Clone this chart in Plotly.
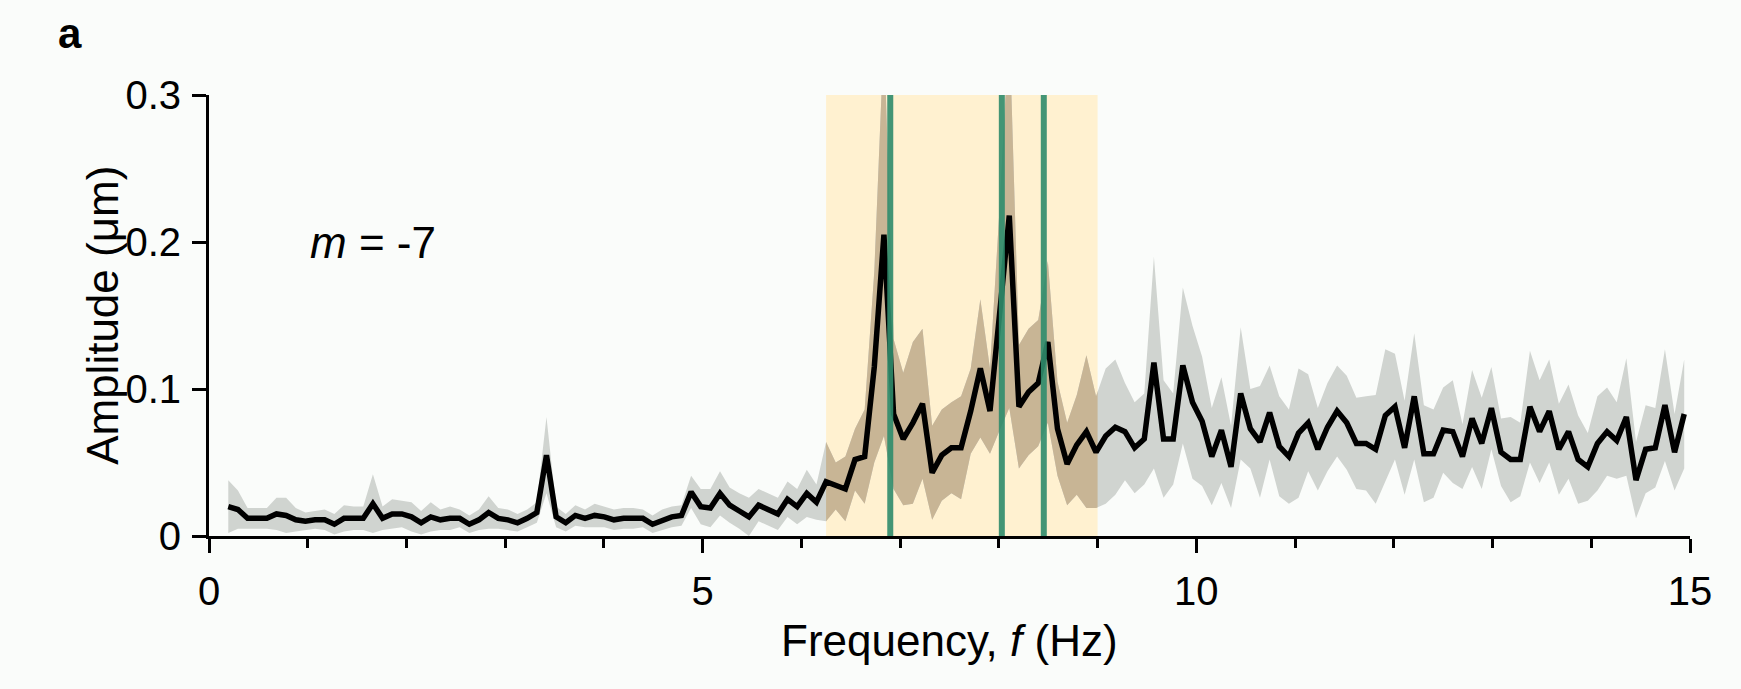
import plotly.graph_objects as go

# Spectral bins: resolution 1/10.24 Hz, bins 2..153
FREQ_STEP_HZ = 1 / 10.24
freq_hz = [n * FREQ_STEP_HZ for n in range(2, 154)]

# Mean amplitude (um) per bin
amp_mean = [
    0.020, 0.018, 0.012, 0.012, 0.012, 0.015, 0.014, 0.011, 0.010, 0.011,
    0.011, 0.008, 0.012, 0.012, 0.012, 0.022, 0.012, 0.015, 0.015, 0.013,
    0.009, 0.013, 0.011, 0.012, 0.012, 0.008, 0.011, 0.016, 0.012, 0.011,
    0.009, 0.012, 0.016, 0.055, 0.013, 0.009, 0.014, 0.012, 0.014, 0.013,
    0.011, 0.012, 0.012, 0.012, 0.008, 0.011, 0.013, 0.014, 0.030, 0.020,
    0.019, 0.029, 0.021, 0.017, 0.013, 0.021, 0.018, 0.015, 0.025, 0.020,
    0.029, 0.023, 0.037, 0.034, 0.032, 0.052, 0.054, 0.115, 0.205, 0.083,
    0.066, 0.077, 0.090, 0.043, 0.055, 0.060, 0.060, 0.085, 0.114, 0.085,
    0.148, 0.218, 0.088, 0.098, 0.104, 0.132, 0.073, 0.049, 0.062, 0.071,
    0.057, 0.068, 0.074, 0.071, 0.060, 0.066, 0.118, 0.066, 0.066, 0.116,
    0.091, 0.078, 0.054, 0.072, 0.047, 0.097, 0.073, 0.064, 0.084, 0.061,
    0.054, 0.070, 0.077, 0.059, 0.074, 0.085, 0.077, 0.063, 0.063, 0.059,
    0.082, 0.088, 0.060, 0.095, 0.056, 0.056, 0.072, 0.071, 0.054, 0.080,
    0.063, 0.087, 0.057, 0.052, 0.052, 0.088, 0.071, 0.085, 0.059, 0.071,
    0.052, 0.047, 0.063, 0.071, 0.065, 0.081, 0.038, 0.059, 0.060, 0.089,
    0.057, 0.083,
]

# Standard deviation of the amplitude per bin
amp_sd = [
    0.018, 0.013, 0.007, 0.007, 0.007, 0.011, 0.012, 0.008, 0.006, 0.006,
    0.007, 0.007, 0.009, 0.008, 0.008, 0.020, 0.008, 0.010, 0.009, 0.010,
    0.008, 0.010, 0.007, 0.008, 0.006, 0.006, 0.007, 0.011, 0.007, 0.007,
    0.006, 0.006, 0.007, 0.026, 0.007, 0.006, 0.007, 0.006, 0.008, 0.007,
    0.007, 0.007, 0.007, 0.006, 0.006, 0.007, 0.007, 0.007, 0.011, 0.012,
    0.013, 0.015, 0.012, 0.012, 0.013, 0.011, 0.011, 0.011, 0.012, 0.012,
    0.016, 0.012, 0.027, 0.016, 0.022, 0.021, 0.032, 0.065, 0.137, 0.051,
    0.045, 0.055, 0.051, 0.032, 0.031, 0.031, 0.035, 0.029, 0.047, 0.029,
    0.076, 0.131, 0.042, 0.043, 0.043, 0.055, 0.032, 0.028, 0.034, 0.052,
    0.038, 0.046, 0.046, 0.033, 0.031, 0.031, 0.072, 0.040, 0.031, 0.053,
    0.052, 0.044, 0.033, 0.036, 0.028, 0.045, 0.027, 0.038, 0.032, 0.034,
    0.032, 0.044, 0.033, 0.028, 0.030, 0.031, 0.032, 0.031, 0.032, 0.037,
    0.045, 0.036, 0.032, 0.043, 0.033, 0.030, 0.029, 0.035, 0.022, 0.033,
    0.031, 0.028, 0.023, 0.029, 0.025, 0.038, 0.035, 0.035, 0.031, 0.032,
    0.030, 0.023, 0.032, 0.030, 0.026, 0.040, 0.026, 0.030, 0.027, 0.038,
    0.026, 0.037,
]

# Highlighted frequency window and mode frequencies (Hz)
window_hz = [6.25, 9.0]
mode_freqs_hz = [6.90, 8.03, 8.455]

x_range = [0, 15]
y_range = [0, 0.3]
y_ticks = [0, 0.1, 0.2, 0.3]
y_ticktext = ["0", "0.1", "0.2", "0.3"]

BG = "#FAFCFA"
GREY_BAND = "#D0D4D0"
BROWN_BAND = "#C8B595"
WINDOW_FILL = "#FFF1D0"
MODE_GREEN = "#2F8C6C"
FONT = "Liberation Sans, Arial, sans-serif"
TICK_FONT = "Liberation Sans Narrow, Arial Narrow, Liberation Sans, sans-serif"
TICK_FS = 40
TITLE_FS = 44

upper = [m + s for m, s in zip(amp_mean, amp_sd)]
lower = [m - s for m, s in zip(amp_mean, amp_sd)]


def band_traces(xa, ya, color):
    return [
        go.Scatter(x=freq_hz, y=upper, mode="lines", line=dict(width=0),
                   hoverinfo="skip", showlegend=False, xaxis=xa, yaxis=ya),
        go.Scatter(x=freq_hz, y=lower, mode="lines", line=dict(width=0),
                   fill="tonexty", fillcolor=color, hoverinfo="skip",
                   showlegend=False, xaxis=xa, yaxis=ya),
    ]


fig = go.Figure()
# grey spread everywhere
for t in band_traces("x", "y", GREY_BAND):
    fig.add_trace(t)
# tinted spread, clipped to the highlighted window by its own subplot
for t in band_traces("x2", "y2", BROWN_BAND):
    fig.add_trace(t)
# mean amplitude on top
fig.add_trace(go.Scatter(x=freq_hz, y=amp_mean, mode="lines",
                         line=dict(color="black", width=5.5),
                         showlegend=False, xaxis="x3", yaxis="y3"))

span = x_range[1] - x_range[0]
win_domain = [(window_hz[0] - x_range[0]) / span, (window_hz[1] - x_range[0]) / span]

hidden = dict(visible=False, showgrid=False, zeroline=False, fixedrange=True)

fig.add_shape(type="rect", xref="x", yref="y", x0=window_hz[0], x1=window_hz[1],
              y0=y_range[0], y1=y_range[1], fillcolor=WINDOW_FILL,
              line=dict(width=0), layer="below")
for fm in mode_freqs_hz:
    fig.add_shape(type="line", xref="x", yref="y", x0=fm, x1=fm,
                  y0=y_range[0], y1=y_range[1],
                  line=dict(color=MODE_GREEN, width=6), opacity=0.9, layer="above")

fig.update_layout(
    width=1741, height=689,
    margin=dict(l=209, r=51, t=95, b=153),
    paper_bgcolor=BG, plot_bgcolor="rgba(0,0,0,0)",
    font=dict(family=FONT, size=TICK_FS, color="black"),
    showlegend=False,
    xaxis=dict(range=x_range, domain=[0, 1], showgrid=False, zeroline=False,
               showline=True, linecolor="black", linewidth=3,
               ticks="outside", ticklen=14, tickwidth=3, tickcolor="black",
               tick0=0, dtick=5, ticklabelstandoff=4,
               minor=dict(ticks="outside", tick0=0, dtick=1, ticklen=9,
                          tickwidth=3, tickcolor="black"),
               tickfont=dict(family=TICK_FONT, size=TICK_FS)),
    yaxis=dict(range=y_range, domain=[0, 1], showgrid=False, zeroline=False,
               showline=True, linecolor="black", linewidth=3,
               ticks="outside", ticklen=14, tickwidth=3, tickcolor="black",
               tickmode="array", tickvals=y_ticks, ticktext=y_ticktext,
               ticklabelstandoff=3,
               tickfont=dict(family=TICK_FONT, size=TICK_FS)),
    xaxis2=dict(range=window_hz, domain=win_domain, anchor="y2", **hidden),
    yaxis2=dict(range=y_range, domain=[0, 1], anchor="x2", **hidden),
    xaxis3=dict(range=x_range, domain=[0, 1], anchor="y3", **hidden),
    yaxis3=dict(range=y_range, domain=[0, 1], anchor="x3", **hidden),
    annotations=[
        dict(text="<b>a</b>", xref="paper", yref="paper", x=-0.094, y=1.14,
             xanchor="center", yanchor="middle", showarrow=False,
             font=dict(size=42)),
        dict(text="<i>m</i> = -7", xref="x", yref="y", x=1.0, y=0.2,
             xanchor="left", yanchor="middle", showarrow=False,
             font=dict(size=TITLE_FS)),
        dict(text="Frequency, <i>f</i> (Hz)", xref="paper", yref="paper",
             x=0.5, y=-0.238, xanchor="center", yanchor="middle",
             showarrow=False, font=dict(size=TITLE_FS)),
        dict(text="Amplitude (\u03bcm)", xref="paper", yref="paper",
             x=-0.072, y=0.5, xanchor="center", yanchor="middle",
             textangle=-90, showarrow=False, font=dict(size=TITLE_FS)),
    ],
)

fig.write_html("out.html")
